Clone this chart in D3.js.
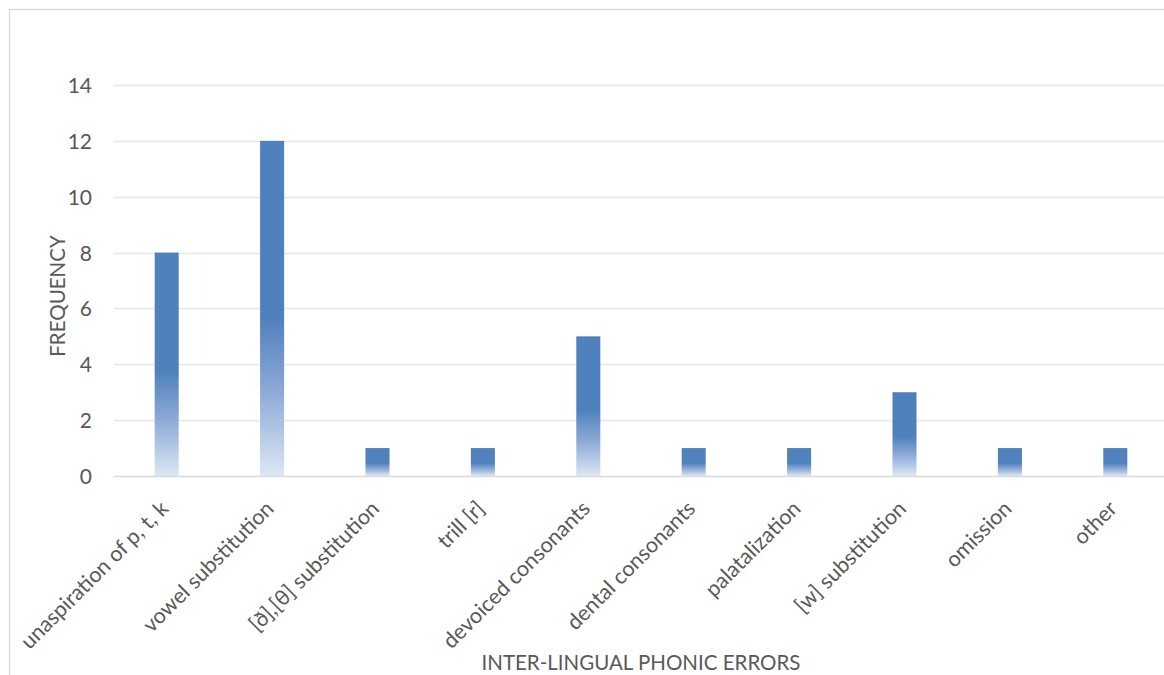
<!DOCTYPE html>
<html><head><meta charset="utf-8">
<script src="https://cdn.jsdelivr.net/npm/d3@7"></script>
<style>body{margin:0;background:#fff}svg{display:block}text{font-family:Lato,"Open Sans",sans-serif;fill:#595959}</style>
</head><body>
<svg id="c" width="1164" height="675"></svg>
<script>
const categories = ["unaspiration of p, t, k","vowel substitution","[ð],[θ] substitution","trill [r]","devoiced consonants","dental consonants","palatalization","[w] substitution","omission","other"];
const values = [8,12,1,1,5,1,1,3,1,1];
const yTicks = [0,2,4,6,8,10,12,14];
const xTitle = "INTER-LINGUAL PHONIC ERRORS";
const yTitle = "FREQUENCY";

const svg = d3.select("#c");
const m = {l:114, r:1168, t:85, b:476};
svg.append("rect").attr("x",9.5).attr("y",9.5).attr("width",1170).attr("height",700)
  .attr("fill","none").attr("stroke","#d9d9d9").attr("stroke-width",1.3);

const x = d3.scaleBand().domain(categories).range([m.l,m.r]).paddingInner(0.772).paddingOuter(0.386);
const y = d3.scaleLinear().domain([0,14]).range([m.b,m.t]);

const defs = svg.append("defs");
const g = defs.append("linearGradient").attr("id","gr").attr("x1",0).attr("y1",0).attr("x2",0).attr("y2",1);
g.append("stop").attr("offset","0").attr("stop-color","#4f81bd");
g.append("stop").attr("offset","0.53").attr("stop-color","#4f81bd");
g.append("stop").attr("offset","0.75").attr("stop-color","#8eaad6");
g.append("stop").attr("offset","1").attr("stop-color","#dce7f4");

// gridlines
svg.append("g").selectAll("line").data(yTicks).join("line")
  .attr("x1",m.l).attr("x2",1164).attr("y1",d=>Math.round(y(d))+0.5).attr("y2",d=>Math.round(y(d))+0.5)
  .attr("stroke",d=>d===0?"#d9d9d9":"#e6e6e6").attr("stroke-width",d=>d===0?1.5:1.3);

// y tick labels
const yAxis = d3.axisLeft(y).tickValues(yTicks).tickSize(0).tickPadding(0);
const ya = svg.append("g").attr("transform",`translate(${m.l-22},0)`).call(yAxis);
ya.select(".domain").remove();
ya.selectAll("text").attr("font-size",21).style("font-family","Lato,sans-serif").attr("fill","#595959").attr("dy","0.36em");

// bars
svg.append("g").selectAll("rect").data(values).join("rect")
  .attr("x",(d,i)=>x(categories[i])).attr("width",x.bandwidth())
  .attr("y",d=>y(d)).attr("height",d=>y(0)-y(d)).attr("fill","url(#gr)");

// x labels
const xAxis = d3.axisBottom(x).tickSize(0).tickPadding(0);
const xa = svg.append("g").attr("transform",`translate(0,${m.b})`).call(xAxis);
xa.select(".domain").remove();
xa.selectAll("text").attr("font-size",21.5).style("font-family","Lato,sans-serif").attr("fill","#595959")
  .attr("text-anchor","end").attr("dy",null).attr("y",0)
  .attr("transform",`translate(3,${34}) rotate(-45)`);

// titles
svg.append("text").attr("x",(m.l+m.r)/2).attr("y",670).attr("text-anchor","middle").attr("font-size",20.5).text(xTitle);
svg.append("text").attr("transform","translate(65,296) rotate(-90)").attr("text-anchor","middle").attr("font-size",20.5).text(yTitle);
</script>
</body></html>
